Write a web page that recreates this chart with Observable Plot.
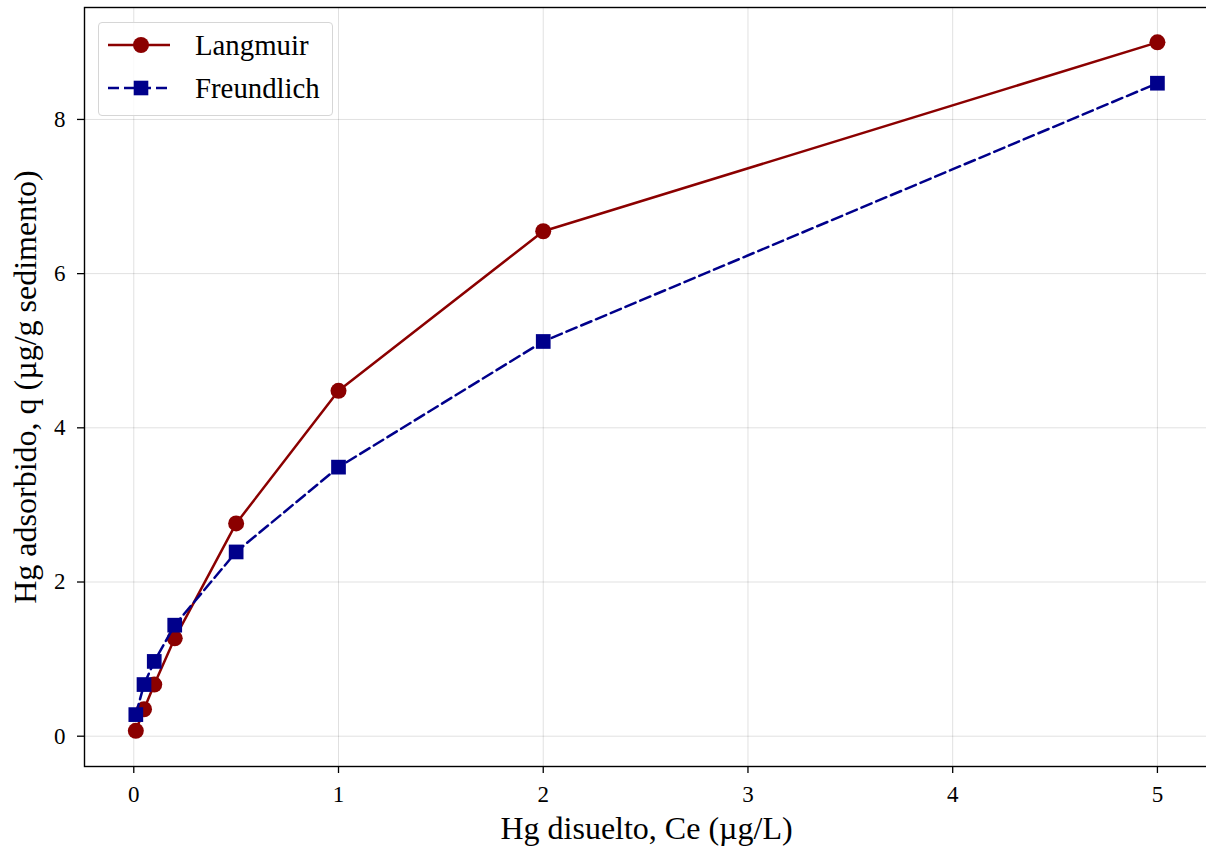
<!DOCTYPE html>
<html>
<head>
<meta charset="utf-8">
<script src="https://cdn.jsdelivr.net/npm/d3@7"></script>
<script src="https://cdn.jsdelivr.net/npm/@observablehq/plot@0.6"></script>
<style>
  html, body { margin: 0; padding: 0; background: #fff; overflow: hidden; }
  #wrap { position: relative; width: 1206px; height: 851px; overflow: hidden; }
  #legend {
    position: absolute; left: 98px; top: 22px; width: 235px; height: 94px;
    border: 1px solid #d6d6d6; border-radius: 4px; background: rgba(255,255,255,0.8);
    box-sizing: border-box;
  }
  #legend svg { position: absolute; left: -1px; top: -1px; }
</style>
</head>
<body>
<div id="wrap"></div>
<script>
const ce = [0.01, 0.05, 0.1, 0.2, 0.5, 1, 2, 5];
const langmuir = [0.07, 0.35, 0.67, 1.27, 2.76, 4.48, 6.55, 9.00];
const freundlich = [0.28, 0.67, 0.97, 1.44, 2.39, 3.49, 5.12, 8.47];
const xTicks = [0, 1, 2, 3, 4, 5];
const yTicks = [0, 2, 4, 6, 8];
const seriesNames = ["Langmuir", "Freundlich"];
const xLabel = "Hg disuelto, Ce (µg/L)";
const yLabel = "Hg adsorbido, q (µg/g sedimento)";

const colL = "#8b0000";
const colF = "#00008b";
const serif = "'Liberation Serif', 'DejaVu Serif', serif";

const dataL = ce.map((x, i) => ({x, y: langmuir[i]}));
const dataF = ce.map((x, i) => ({x, y: freundlich[i]}));

const chart = Plot.plot({
  width: 1206,
  height: 851,
  marginLeft: 84,
  marginRight: -2,
  marginTop: 7,
  marginBottom: 85,
  x: {domain: [-0.2407, 5.2495]},
  y: {domain: [-0.393, 9.452]},
  style: {fontFamily: serif, fontSize: "23px", background: "#fff", overflow: "hidden"},
  marks: [
    Plot.gridX(xTicks, {stroke: "#000", strokeOpacity: 0.12, strokeWidth: 1}),
    Plot.gridY(yTicks, {stroke: "#000", strokeOpacity: 0.12, strokeWidth: 1}),
    Plot.axisX(xTicks, {tickSize: 7, label: null, tickFormat: () => "", strokeWidth: 1.3}),
    Plot.axisY(yTicks, {tickSize: 7, label: null, tickFormat: () => "", strokeWidth: 1.3}),
    Plot.text(xTicks, {x: d => d, text: d => String(d), frameAnchor: "bottom", dy: 19, lineAnchor: "top", textAnchor: "middle", fontSize: 23, fill: "#000"}),
    Plot.text(yTicks, {y: d => d, text: d => String(d), frameAnchor: "left", dx: -19, lineAnchor: "middle", textAnchor: "end", fontSize: 23, fill: "#000"}),
    Plot.line(dataL, {x: "x", y: "y", stroke: colL, strokeWidth: 2.5}),
    Plot.dot(dataL, {x: "x", y: "y", r: 8, fill: colL, stroke: "none", symbol: "circle"}),
    Plot.line(dataF, {x: "x", y: "y", stroke: colF, strokeWidth: 2.5, strokeDasharray: "11,5"}),
    Plot.dot(dataF, {x: "x", y: "y", r: 8.3, fill: colF, stroke: "none", symbol: "square"}),
    Plot.frame({stroke: "#000", strokeWidth: 1.4}),
    Plot.text([xLabel], {frameAnchor: "bottom", dy: 62, fontSize: 32, lineAnchor: "middle", textAnchor: "middle", fill: "#000"}),
    Plot.text([yLabel], {frameAnchor: "left", dx: -59, rotate: -90, fontSize: 32, lineAnchor: "middle", textAnchor: "middle", fill: "#000"})
  ]
});

const wrap = document.getElementById("wrap");
wrap.appendChild(chart);

// Legend
const legend = document.createElement("div");
legend.id = "legend";
const ns = "http://www.w3.org/2000/svg";
const svg = document.createElementNS(ns, "svg");
svg.setAttribute("width", 236);
svg.setAttribute("height", 95);
const rows = [
  {name: seriesNames[0], color: colL, dash: null, sym: "circle", y: 23},
  {name: seriesNames[1], color: colF, dash: "11,5", sym: "square", y: 66}
];
rows.forEach(r => {
  const ln = document.createElementNS(ns, "line");
  ln.setAttribute("x1", 10); ln.setAttribute("x2", 72);
  ln.setAttribute("y1", r.y); ln.setAttribute("y2", r.y);
  ln.setAttribute("stroke", r.color); ln.setAttribute("stroke-width", 2.5);
  if (r.dash) ln.setAttribute("stroke-dasharray", r.dash);
  svg.appendChild(ln);
  if (r.sym === "circle") {
    const c = document.createElementNS(ns, "circle");
    c.setAttribute("cx", 43); c.setAttribute("cy", r.y); c.setAttribute("r", 8);
    c.setAttribute("fill", r.color);
    svg.appendChild(c);
  } else {
    const s = document.createElementNS(ns, "rect");
    s.setAttribute("x", 43 - 7.3); s.setAttribute("y", r.y - 7.3);
    s.setAttribute("width", 14.6); s.setAttribute("height", 14.6);
    s.setAttribute("fill", r.color);
    svg.appendChild(s);
  }
  const t = document.createElementNS(ns, "text");
  t.setAttribute("x", 97); t.setAttribute("y", r.y + 9.7);
  t.setAttribute("font-family", serif);
  t.setAttribute("font-size", 28.8);
  t.setAttribute("fill", "#000");
  t.textContent = r.name;
  svg.appendChild(t);
});
legend.appendChild(svg);
wrap.appendChild(legend);
</script>
</body>
</html>
